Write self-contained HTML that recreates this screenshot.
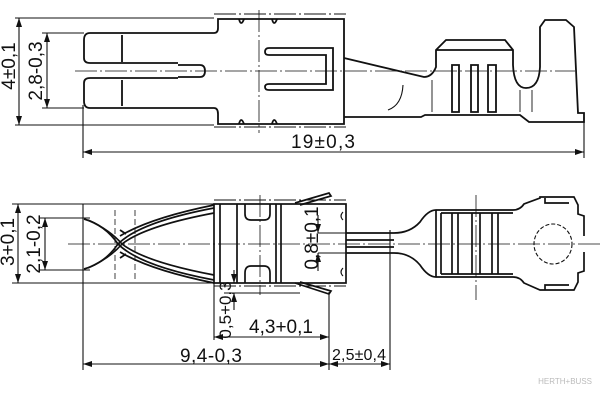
<!DOCTYPE html>
<html><head><meta charset="utf-8"><style>
html,body{margin:0;padding:0;background:#fff;}
svg{display:block;}
text{font-family:"Liberation Sans",sans-serif;fill:#111;}
</style></head><body>
<svg width="600" height="400" viewBox="0 0 600 400" xmlns="http://www.w3.org/2000/svg">
<defs>
<marker id="a" markerWidth="9" markerHeight="6" refX="9" refY="3" orient="auto-start-reverse" markerUnits="userSpaceOnUse"><path d="M0,0 L9,3 L0,6z" fill="#111"/></marker>
</defs>
<g fill="none" stroke="#111" stroke-width="1.1">
<!-- ===== TOP VIEW ===== -->
<line x1="15" y1="18" x2="214" y2="18"/>
<line x1="15" y1="125" x2="214" y2="125"/>
<line x1="19" y1="18" x2="19" y2="125" marker-start="url(#a)" marker-end="url(#a)"/>
<line x1="42" y1="33" x2="84" y2="33"/>
<line x1="42" y1="108" x2="84" y2="108"/>
<line x1="47" y1="33" x2="47" y2="108" marker-start="url(#a)" marker-end="url(#a)"/>
<line x1="75" y1="71" x2="575" y2="71" stroke-dasharray="22,3,2,3" stroke-width="0.8"/>
<line x1="259" y1="10" x2="259" y2="133" stroke-dasharray="22,3,2,3" stroke-width="0.8"/>
<line x1="214" y1="14" x2="346" y2="14" stroke-dasharray="22,3,2,3" stroke-width="1"/>
<line x1="214" y1="127" x2="346" y2="127" stroke-dasharray="22,3,2,3" stroke-width="1"/>
<g stroke-width="1.8">
<path d="M214,33 L90,33 Q84,33 84,40 L84,58 Q84,63 90,63 L178,63"/>
<path d="M214,108 L90,108 Q84,108 84,101 L84,83 Q84,78 90,78 L178,78"/>
<path d="M122,35 L122,62 M122,80 L122,106"/>
<path d="M178,65 L200,65 Q205,65 205,71 Q205,77 200,77 L178,77"/>
<path d="M214,33 Q218,33 218,28 L218,19 L344,19 L344,124 L218,124 L218,114 Q218,108 214,108"/>
<path d="M239,19 Q241,27 244,19 M272,19 Q274,27 277,19 M239,124 Q241,116 244,124 M272,124 Q274,116 277,124"/>
<path d="M269,48 L333,48 L333,90 L269,90 Q265,90 265,87 Q265,84 269,84 L326,84 L326,55 L269,55 Q265,55 265,52 Q265,48 269,48"/>
<path d="M344,58 L424,77 Q432,77 436,67 L436,50 L446,40 L505,40 L513,50 L513,65 Q514,88 526,88 Q539,88 540,67 L540,27 L545,20 L566,20 L574,27 L578,113 L584,113 L584,122 L529,122 L520,115 L425,115 L421,117 L344,117"/>
<path d="M436,50 L513,50"/>
<path d="M452,65 L459,65 L459,112 L452,112Z M471,65 L478,65 L478,112 L471,112Z M488,65 L496,65 L496,112 L488,112Z"/>
<path d="M403,85 Q402,105 388,110" stroke-width="1.1"/>
<path d="M432,80 L432,112 M520,90 L520,112 M532,90 L532,112" stroke-width="0.9"/>
</g>
<line x1="83" y1="105" x2="83" y2="158"/>
<line x1="584" y1="117" x2="584" y2="158"/>
<line x1="83" y1="152" x2="584" y2="152" marker-start="url(#a)" marker-end="url(#a)"/>

<!-- ===== BOTTOM VIEW ===== -->
<line x1="12" y1="204" x2="214" y2="204"/>
<line x1="12" y1="283" x2="214" y2="283"/>
<line x1="18" y1="204" x2="18" y2="283" marker-start="url(#a)" marker-end="url(#a)"/>
<line x1="40" y1="218" x2="90" y2="218"/>
<line x1="40" y1="270" x2="90" y2="270"/>
<line x1="45" y1="218" x2="45" y2="270" marker-start="url(#a)" marker-end="url(#a)"/>
<line x1="68" y1="244" x2="600" y2="244" stroke-dasharray="22,3,2,3" stroke-width="0.8"/>
<line x1="115" y1="210" x2="115" y2="280" stroke-dasharray="6,3" stroke-width="0.8"/>
<line x1="135" y1="210" x2="135" y2="280" stroke-dasharray="6,3" stroke-width="0.8"/>
<line x1="260" y1="195" x2="260" y2="295" stroke-dasharray="22,3,2,3" stroke-width="0.8"/>
<line x1="476" y1="195" x2="476" y2="300" stroke-dasharray="22,3,2,3" stroke-width="0.8"/>
<line x1="214" y1="200" x2="346" y2="200" stroke-dasharray="22,3,2,3" stroke-width="1"/>
<line x1="214" y1="286" x2="346" y2="286" stroke-dasharray="22,3,2,3" stroke-width="1"/>
<line x1="83" y1="204" x2="83" y2="370"/>
<g stroke-width="1.7">
<path d="M84,219 Q105,225 118,244 Q105,263 84,269"/>
<path d="M88,220 Q110,230 122,244 Q110,258 88,268"/>
<path d="M118,244 Q140,222 214,208 M122,244 Q145,226 214,213 M120,236 Q150,218 214,205"/>
<path d="M118,244 Q140,266 214,280 M122,244 Q145,262 214,275 M120,252 Q150,270 214,283"/>
<path d="M120,230 L126,234 M120,258 L126,254"/>
<rect x="214" y="204" width="132" height="79"/>
<path d="M220,204 L220,283 M237,204 L237,283 M276,204 L276,283 M281,204 L281,283"/>
<path d="M245,204 L245,214 Q245,220 251,220 L264,220 Q270,220 270,214 L270,204"/>
<path d="M245,283 L245,273 Q245,266 251,266 L264,266 Q270,266 270,273 L270,283"/>
<path d="M295,203 L329,193 L331,196 L300,205 M295,283 L329,294 L331,291 L300,282"/>
<path d="M343,212 Q339,216 343,220 M343,268 Q339,272 343,276" stroke-width="1.1"/>
<path d="M346,233 L394,233 M346,240 L394,240 M346,247 L394,247 M346,253 L394,253"/>
<path d="M394,233 Q410,233 420,222 Q428,210 436,210 L513,210 Q520,210 524,204 L540,198 L540,197 L574,197 L578,205 L578,214 L584,216 L584,236"/>
<path d="M394,253 Q410,253 420,265 Q428,277 436,277 L513,277 Q520,277 524,283 L540,290 L574,290 L578,282 L578,273 L584,271 L584,252"/>
<path d="M436,210 L436,277 M441,213 L441,274 M441,213 L513,213 M441,274 L513,274"/>
<path d="M452,213 L452,274 M458,213 L458,274 M472,213 L472,274 M480,213 L480,274 M492,213 L492,274 M498,213 L498,274"/>
<path d="M545,198 L545,203 L569,203 M545,290 L545,285 L569,285"/>
</g>
<ellipse cx="553" cy="244" rx="19" ry="20" stroke-dasharray="4,2"/>
<line x1="318" y1="233" x2="346" y2="233"/>
<line x1="318" y1="253" x2="346" y2="253"/>
<line x1="318" y1="215" x2="318" y2="233" marker-end="url(#a)"/>
<line x1="318" y1="271" x2="318" y2="253" marker-end="url(#a)"/>
<line x1="234" y1="270" x2="234" y2="283" marker-end="url(#a)"/>
<line x1="234" y1="310" x2="234" y2="293" marker-end="url(#a)"/>
<line x1="224" y1="293" x2="300" y2="293" stroke-width="0.9"/>
<line x1="214" y1="283" x2="214" y2="340"/>
<line x1="329" y1="292" x2="329" y2="370"/>
<line x1="214" y1="337" x2="329" y2="337" marker-start="url(#a)" marker-end="url(#a)"/>
<line x1="83" y1="364" x2="329" y2="364" marker-start="url(#a)" marker-end="url(#a)"/>
<line x1="390" y1="230" x2="390" y2="370"/>
<line x1="329" y1="364" x2="390" y2="364" marker-start="url(#a)" marker-end="url(#a)"/>
</g>
<g font-size="19">
<text x="0" y="0" transform="translate(15,66) rotate(-90)" text-anchor="middle">4±0,1</text>
<text x="0" y="0" transform="translate(42,71) rotate(-90)" text-anchor="middle">2,8-0,3</text>
<text x="323" y="148" text-anchor="middle" textLength="64">19±0,3</text>
<text x="0" y="0" transform="translate(14,242) rotate(-90)" text-anchor="middle">3+0,1</text>
<text x="0" y="0" transform="translate(40,244) rotate(-90)" text-anchor="middle">2,1-0,2</text>
<text x="0" y="0" transform="translate(318,238) rotate(-90)" text-anchor="middle">0,8±0,1</text>
<text x="0" y="0" transform="translate(231,310) rotate(-90)" text-anchor="middle" font-size="17">0,5+0,3</text>
<text x="281" y="333" text-anchor="middle" textLength="64">4,3+0,1</text>
<text x="211" y="362" text-anchor="middle" textLength="62">9,4-0,3</text>
<text x="359" y="360" text-anchor="middle" font-size="16" textLength="54">2,5±0,4</text>
</g>
<text x="592" y="384" text-anchor="end" font-size="8" style="fill:#bbb">HERTH+BUSS</text>
</svg>
</body></html>
